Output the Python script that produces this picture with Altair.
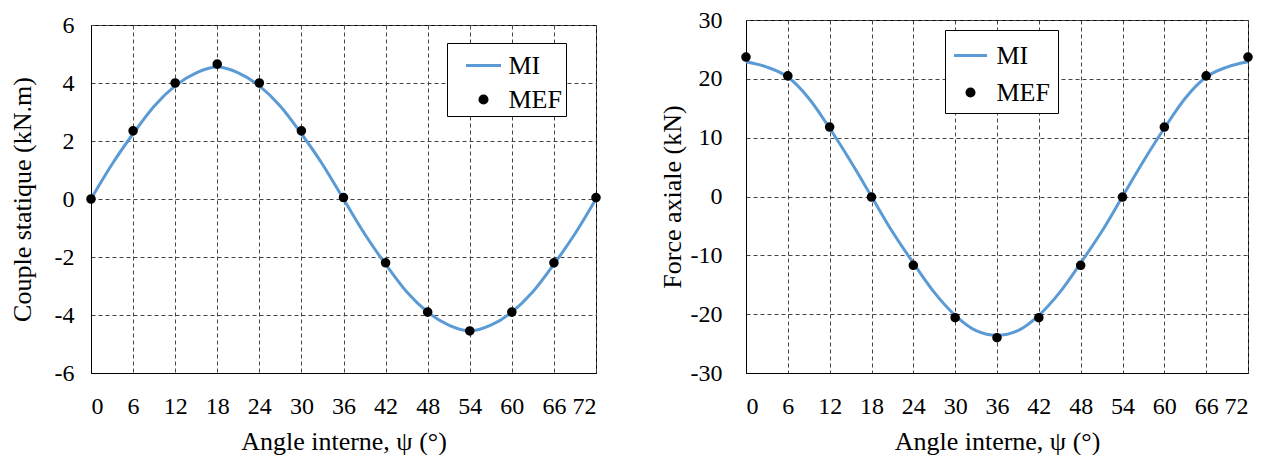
import altair as alt
import pandas as pd

# ---- data ----
ANGLES_MEF = [0, 6, 12, 18, 24, 30, 36, 42, 48, 54, 60, 66, 72]
COUPLE_MEF = [0.0, 2.35, 4.0, 4.65, 4.0, 2.35, 0.05, -2.2, -3.9, -4.55, -3.9, -2.2, 0.05]
FORCE_MEF = [23.7, 20.5, 11.8, -0.1, -11.7, -20.6, -24.0, -20.6, -11.7, -0.1, 11.8, 20.5, 23.7]

ANGLES_MI = [0, 3, 6, 9, 12, 15, 18, 21, 24, 27, 30, 33, 36,
             39, 42, 45, 48, 51, 54, 57, 60, 63, 66, 69, 72]
COUPLE_MI = [0.0, 1.2, 2.25, 3.2, 3.9, 4.35, 4.55, 4.35, 3.9, 3.2, 2.25, 1.2, 0.0,
             -1.2, -2.25, -3.2, -3.9, -4.35, -4.55, -4.35, -3.9, -3.2, -2.25, -1.2, 0.0]
FORCE_MI = [22.9, 22.0, 20.3, 16.7, 11.6, 6.0, 0.0, -6.0, -11.3, -16.3, -20.2, -22.8, -23.6,
            -22.8, -20.2, -16.3, -11.3, -6.0, 0.0, 6.0, 11.6, 16.7, 20.3, 22.0, 22.9]

SERIES = ["MI", "MEF"]
X_TICKS = [0, 6, 12, 18, 24, 30, 36, 42, 48, 54, 60, 66, 72]
COUPLE_TICKS = [-6, -4, -2, 0, 2, 4, 6]
FORCE_TICKS = [-30, -20, -10, 0, 10, 20, 30]

BLUE = "#5B9BD5"
FONT = "Liberation Serif"
INDEP = dict(color="independent", stroke="independent", shape="independent", size="independent")


def panel(mi_vals, mef_vals, ytitle, ydomain, yticks, width, height,
          ylabpad, ytitpad, line_len2, legend_kw):
    mi = pd.DataFrame({"angle": ANGLES_MI, "value": mi_vals})
    mef = pd.DataFrame({"angle": ANGLES_MEF, "value": mef_vals,
                        "series": ["MEF"] * len(ANGLES_MEF)})
    x = alt.X("angle:Q",
              scale=alt.Scale(domain=[0, 72], nice=False, zero=False),
              axis=alt.Axis(values=X_TICKS, title="Angle interne, ψ (°)",
                            labelPadding=21, titlePadding=10))
    y = alt.Y("value:Q",
              scale=alt.Scale(domain=ydomain, nice=False, zero=False),
              axis=alt.Axis(values=yticks, title=ytitle,
                            labelExpr="'' + datum.value",
                            labelPadding=ylabpad, titlePadding=ytitpad))
    line = alt.Chart(mi).mark_line(
        color=BLUE, strokeWidth=3, interpolate="monotone"
    ).encode(x=x, y=y)
    leg = alt.Legend(**legend_kw)
    pts = alt.Chart(mef).mark_point(
        filled=True, opacity=1, strokeWidth=2.5
    ).encode(
        x=x, y=y,
        color=alt.Color("series:N", scale=alt.Scale(domain=SERIES, range=[BLUE, "black"]), legend=leg),
        stroke=alt.Stroke("series:N", scale=alt.Scale(domain=SERIES, range=[BLUE, "black"]), legend=leg),
        shape=alt.Shape("series:N", scale=alt.Scale(domain=SERIES, range=["stroke", "circle"]), legend=leg),
        size=alt.Size("series:N", scale=alt.Scale(type="point", domain=SERIES, range=[line_len2, 50]), legend=leg),
    )
    return alt.layer(line, pts).properties(width=width, height=height)


common_leg = dict(
    orient="none", title=None, strokeColor="black", fillColor="white",
    labelFont=FONT, labelFontSize=26, labelColor="black",
    symbolStrokeWidth=3,
)

left = panel(COUPLE_MI, COUPLE_MEF, "Couple statique (kN.m)", [-6, 6], COUPLE_TICKS,
             505, 348, 17, 19, 1225,
             dict(common_leg, legendX=356, legendY=18, padding=3.5, rowPadding=8,
                  symbolOffset=14, labelOffset=6))
right = panel(FORCE_MI, FORCE_MEF, "Force axiale (kN)", [-30, 30], FORCE_TICKS,
              502, 353, 24, 5, 1089,
              dict(common_leg, legendX=199, legendY=10, padding=7.5, rowPadding=11,
                   symbolOffset=0, labelOffset=8))

# invisible 1px spacer that lowers the left panel relative to the right one
spacer = alt.Chart(pd.DataFrame({"s": [0]})).mark_point(size=1, opacity=0, clip=True).encode(
    x=alt.X("s:Q", axis=None), y=alt.Y("s:Q", axis=None)
).properties(width=1, height=1, view=alt.ViewBackground(stroke="transparent"))

left_col = alt.vconcat(spacer, left, spacing=-10).resolve_scale(**INDEP).resolve_legend(**INDEP)

chart = alt.hconcat(left_col, right, spacing=52).resolve_scale(**INDEP).resolve_legend(
    **INDEP
).configure(
    padding={"left": 0, "top": -1, "right": 2, "bottom": 0},
    background="white",
).configure_axis(
    labelFont=FONT, labelFontSize=24, labelColor="black",
    titleFont=FONT, titleFontSize=26, titleFontWeight="normal", titleColor="black",
    domainColor="black", domainWidth=1,
    ticks=False, tickSize=0,
    grid=True, gridColor="#444444", gridDash=[4, 3], gridWidth=1, gridOpacity=1,
).configure_view(
    stroke="black", strokeWidth=1,
)

chart.save("out.html", embed_options={"renderer": "svg", "actions": False})
